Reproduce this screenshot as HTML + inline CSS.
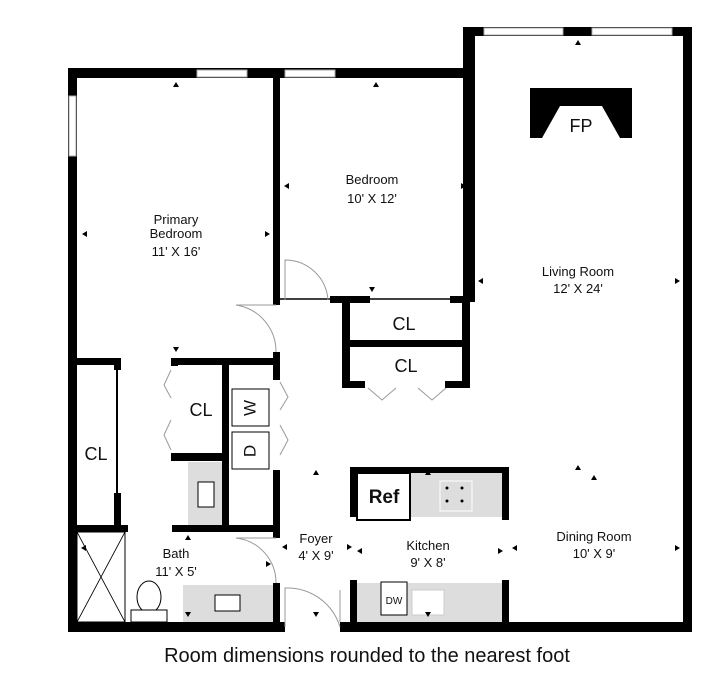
<!DOCTYPE html>
<html><head><style>
body{margin:0;background:#fff;width:720px;height:689px;overflow:hidden}
text{font-family:"Liberation Sans",sans-serif;fill:#111}
.l{font-size:13px;text-anchor:middle}
</style></head><body>
<svg width="720" height="689" viewBox="0 0 720 689" xmlns="http://www.w3.org/2000/svg">
<g fill="#000">
<rect x="68" y="68" width="402" height="10"/>
<rect x="68" y="68" width="9" height="564"/>
<rect x="463" y="27" width="12" height="275"/>
<rect x="463" y="27" width="229" height="9"/>
<rect x="683" y="27" width="9" height="605"/>
<rect x="68" y="622" width="217" height="10"/>
<rect x="340" y="622" width="352" height="10"/>
<rect x="273" y="78" width="7" height="227"/>
<rect x="273" y="352" width="7" height="28"/>
<rect x="273" y="470" width="7" height="68"/>
<rect x="273" y="583" width="7" height="40"/>
<rect x="330" y="296" width="40" height="7"/>
<rect x="450" y="296" width="20" height="7"/>
<rect x="342" y="296" width="8" height="92"/>
<rect x="462" y="296" width="8" height="92"/>
<rect x="342" y="340" width="128" height="7"/>
<rect x="342" y="381" width="23" height="7"/>
<rect x="445" y="381" width="25" height="7"/>
<rect x="68" y="358" width="53" height="7"/>
<rect x="114" y="358" width="7" height="12"/>
<rect x="114" y="493" width="7" height="35"/>
<rect x="171" y="358" width="109" height="7"/>
<rect x="171" y="358" width="7" height="8"/>
<rect x="171" y="453" width="57" height="8"/>
<rect x="222" y="358" width="7" height="170"/>
<rect x="68" y="525" width="60" height="7"/>
<rect x="172" y="525" width="108" height="7"/>
<rect x="350" y="467" width="159" height="6"/>
<rect x="350" y="467" width="7" height="50"/>
<rect x="502" y="467" width="7" height="53"/>
<rect x="350" y="580" width="7" height="45"/>
<rect x="502" y="580" width="7" height="45"/>
</g>
<line x1="117" y1="370" x2="117" y2="493" stroke="#000" stroke-width="2"/>
<line x1="280" y1="299" x2="450" y2="299" stroke="#000" stroke-width="1.5"/>
<g fill="#fff" stroke="#aaa" stroke-width="1">
<rect x="197" y="70" width="50" height="7"/><rect x="285" y="70" width="50" height="7"/>
<rect x="484" y="28" width="79" height="7"/><rect x="592" y="28" width="80" height="7"/>
<rect x="69" y="96" width="7" height="60"/>
</g>
<path d="M530 88H632V138H620L602 106H560L542 138H530Z" fill="#000"/>
<text x="581" y="132" style="font-size:18px;text-anchor:middle">FP</text>
<g fill="none" stroke="#999" stroke-width="1">
<path d="M285 300V260A43 43 0 0 1 328 300"/>
<path d="M276 305H236A47 47 0 0 1 276 352"/>
<path d="M276 538H236A45 45 0 0 1 276 583"/>
<path d="M285 627V588A55 55 0 0 1 340 627"/>
<path d="M340 622V590"/>
<path d="M171 370L164 385L171 398M171 420L164 435L171 450"/>
<path d="M280 382L288 397L280 410M280 425L288 440L280 455"/>
<path d="M368 388L382 400L396 388M418 388L432 400L446 388"/>
</g>
<g fill="#ddd">
<rect x="188" y="462" width="34" height="63"/>
<rect x="183" y="585" width="90" height="37"/>
<rect x="410" y="473" width="92" height="44"/>
<rect x="357" y="583" width="145" height="39"/>
</g>
<g fill="#fff" stroke="#000" stroke-width="1">
<rect x="198" y="482" width="16" height="25"/>
<rect x="215" y="595" width="25" height="16"/>
<rect x="357" y="473" width="53" height="47" stroke-width="2"/>
<rect x="381" y="582" width="26" height="33"/>
<rect x="412" y="590" width="32" height="25" stroke="#ccc"/>
<rect x="232" y="389" width="37" height="37"/>
<rect x="232" y="432" width="37" height="37"/>
<rect x="77" y="532" width="48" height="90"/>
<ellipse cx="149" cy="597" rx="12" ry="16"/>
<rect x="131" y="610" width="36" height="12"/>
</g>
<path d="M77 532L125 622M125 532L77 622" stroke="#000" stroke-width="0.8"/>
<g fill="#000"><circle cx="447" cy="488" r="1.5"/><circle cx="462" cy="488" r="1.5"/><circle cx="447" cy="501" r="1.5"/><circle cx="462" cy="501" r="1.5"/></g>
<rect x="440" y="481" width="32" height="30" fill="none" stroke="#fff"/>
<!-- small markers -->
<g fill="#000">
<path d="M176 82l-3 5h6z"/><path d="M376 82l-3 5h6z"/><path d="M578 40l-3 5h6z"/>
<path d="M82 234l5 -3v6z"/><path d="M270 234l-5 -3v6z"/>
<path d="M284 186l5 -3v6z"/><path d="M466 186l-5 -3v6z"/>
<path d="M478 281l5 -3v6z"/><path d="M680 281l-5 -3v6z"/>
<path d="M372 292l-3 -5h6z"/><path d="M176 352l-3 -5h6z"/>
<path d="M316 470l-3 5h6z"/><path d="M428 470l-3 5h6z"/><path d="M578 465l-3 5h6z"/><path d="M594 475l-3 5h6z"/>
<path d="M188 535l-3 5h6z"/><path d="M81 548l5 -3v6z"/><path d="M271 564l-5 -3v6z"/>
<path d="M282 547l5 -3v6z"/><path d="M352 547l-5 -3v6z"/><path d="M357 551l5 -3v6z"/>
<path d="M503 551l-5 -3v6z"/><path d="M512 548l5 -3v6z"/><path d="M680 548l-5 -3v6z"/>
<path d="M188 617l-3 -5h6z"/><path d="M316 617l-3 -5h6z"/><path d="M428 617l-3 -5h6z"/>
</g>
<text x="384" y="503" style="font-size:19px;font-weight:bold;text-anchor:middle">Ref</text>
<text x="394" y="604" style="font-size:10px;text-anchor:middle">DW</text>
<text x="251" y="408" transform="rotate(-90 251 408)" style="font-size:17px;text-anchor:middle;dominant-baseline:middle">W</text>
<text x="251" y="451" transform="rotate(-90 251 451)" style="font-size:17px;text-anchor:middle;dominant-baseline:middle">D</text>
<g style="font-size:18px;text-anchor:middle">
<text x="96" y="460">CL</text><text x="201" y="416">CL</text>
<text x="404" y="330">CL</text><text x="406" y="372">CL</text>
</g>
<g class="l">
<text x="176" y="224">Primary</text><text x="176" y="238">Bedroom</text><text x="176" y="256">11' X 16'</text>
<text x="372" y="184">Bedroom</text><text x="372" y="203">10' X 12'</text>
<text x="578" y="276">Living Room</text><text x="578" y="293">12' X 24'</text>
<text x="594" y="541">Dining Room</text><text x="594" y="558">10' X 9'</text>
<text x="428" y="550">Kitchen</text><text x="428" y="567">9' X 8'</text>
<text x="316" y="543">Foyer</text><text x="316" y="560">4' X 9'</text>
<text x="176" y="558">Bath</text><text x="176" y="576">11' X 5'</text>
</g>
<text x="367" y="662" style="font-size:20px;text-anchor:middle">Room dimensions rounded to the nearest foot</text>
</svg>
</body></html>
